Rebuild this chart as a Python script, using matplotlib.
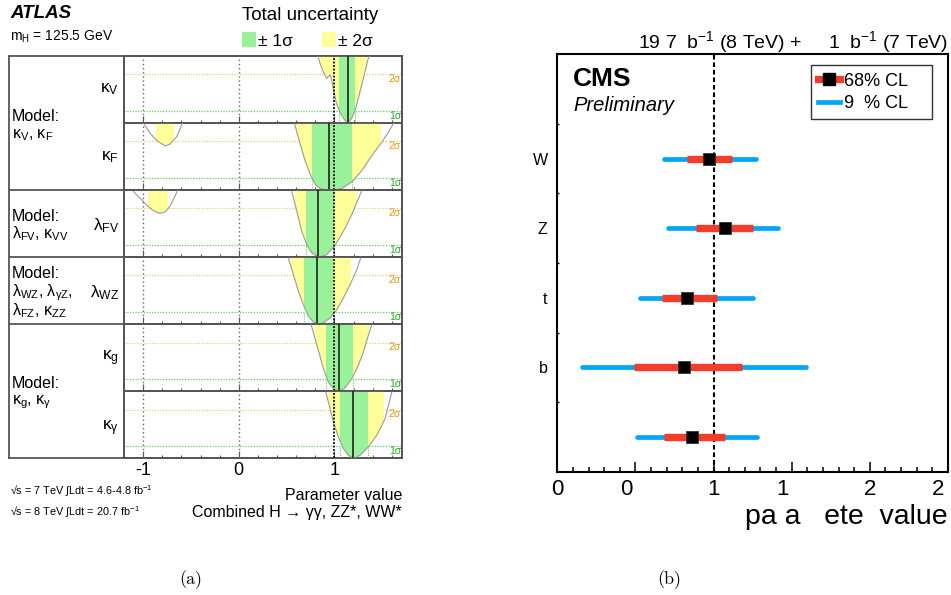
import numpy as np
import matplotlib
matplotlib.use("Agg")
import matplotlib.pyplot as plt
import matplotlib.transforms as mtransforms
from matplotlib.patches import Polygon, Rectangle
from matplotlib.lines import Line2D

W, H = 951, 595
plt.rcParams['font.family'] = ['Liberation Sans', 'DejaVu Sans']
plt.rcParams['mathtext.fontset'] = 'custom'
plt.rcParams['mathtext.rm'] = 'Liberation Sans'
plt.rcParams['mathtext.it'] = 'Liberation Sans:italic'
plt.rcParams['mathtext.bf'] = 'Liberation Sans:bold'
plt.rcParams['axes.unicode_minus'] = False

# ---------------- ATLAS panel data (-2 ln Lambda scans) ----------------
atlas_labels = ["κ$_\\mathrm{V}$", "κ$_\\mathrm{F}$", "λ$_\\mathrm{FV}$",
                "λ$_\\mathrm{WZ}$", "κ$_\\mathrm{g}$", "κ$_\\mathrm{γ}$"]

kV_x = [0.825, 0.850, 0.884, 0.919, 0.953, 0.970, 0.998, 1.022, 1.057, 1.102,
        1.137, 1.178, 1.213, 1.248, 1.283, 1.318, 1.346, 1.363]
kV_y = [5.54, 4.86, 4.18, 3.66, 3.96, 3.55, 2.40, 1.58, 0.90, 0.30,
        0.0, 0.35, 0.98, 1.99, 3.08, 4.18, 5.08, 5.54]
kV_best = 1.137
kV_1s = [(1.045, 1.213)]
kV_2s = [(0.850, 1.345)]

kF_x = [0.578, 0.641, 0.693, 0.745, 0.797, 0.850, 0.920, 0.990, 1.076, 1.180,
        1.285, 1.390, 1.494, 1.560, 1.620]
kF_y = [5.56, 3.78, 2.41, 1.32, 0.50, 0.12, 0.02, 0.0, 0.12, 0.66,
        1.59, 2.82, 3.92, 4.70, 5.50]
kF2_x = [-0.997, -0.927, -0.857, -0.770, -0.718, -0.648, -0.596, -0.585]
kF2_y = [5.48, 4.66, 4.05, 3.62, 3.78, 4.38, 5.34, 5.60]
kF_best = 0.947
kF_1s = [(0.763, 1.180)]
kF_2s = [(0.600, 1.490), (-0.867, -0.678)]

lFV_x = [0.553, 0.606, 0.658, 0.711, 0.763, 0.842, 0.920, 1.006, 1.093, 1.181,
         1.268, 1.303]
lFV_y = [5.41, 3.77, 2.12, 1.03, 0.34, 0.0, 0.21, 0.98, 2.12, 3.49, 5.13, 5.68]
lFV2_x = [-1.100, -1.031, -0.945, -0.892, -0.830, -0.770, -0.718, -0.666, -0.642]
lFV2_y = [5.37, 4.83, 4.14, 3.81, 3.60, 3.71, 4.20, 5.02, 5.46]
lFV_best = 0.832
lFV_1s = [(0.700, 1.000)]
lFV_2s = [(0.588, 1.233), (-0.945, -0.736)]

lWZ_x = [0.518, 0.571, 0.623, 0.675, 0.727, 0.780, 0.822, 0.884, 0.954, 1.024,
         1.093, 1.163, 1.233, 1.275]
lWZ_y = [5.43, 4.06, 2.70, 1.60, 0.65, 0.18, 0.0, 0.10, 0.51, 1.19,
         2.15, 3.24, 4.47, 5.45]
lWZ_best = 0.822
lWZ_1s = [(0.684, 0.985)]
lWZ_2s = [(0.548, 1.175)]

kg_x = [0.752, 0.797, 0.842, 0.884, 0.936, 0.988, 1.041, 1.110, 1.181, 1.250,
        1.302, 1.354, 1.395]
kg_y = [5.55, 4.32, 3.08, 1.86, 0.76, 0.21, 0.0, 0.27, 1.03, 2.13,
        3.22, 4.59, 5.55]
kg_best = 1.050
kg_1s = [(0.915, 1.195)]
kg_2s = [(0.797, 1.357)]

kgam_x = [0.910, 0.954, 0.988, 1.041, 1.093, 1.145, 1.198, 1.268, 1.354, 1.442,
          1.529, 1.565, 1.600]
kgam_y = [5.44, 4.07, 2.98, 1.75, 0.79, 0.25, 0.0, 0.25, 0.93, 1.89,
          3.25, 4.35, 5.44]
kgam_best = 1.198
kgam_1s = [(1.058, 1.354)]
kgam_2s = [(0.937, 1.520)]

atlas_xticks = [-1, 0, 1]
atlas_xticklabels = ["-1", "0", "1"]

# ---------------- CMS panel data ----------------
cms_cats = ["W", "Z", "t", "b", ""]
cms_best = [0.97, 1.07, 0.83, 0.81, 0.86]
cms_68_lo = [0.83, 0.89, 0.67, 0.49, 0.68]
cms_68_hi = [1.12, 1.25, 1.02, 1.18, 1.07]
cms_95_lo = [0.68, 0.71, 0.53, 0.16, 0.51]
cms_95_hi = [1.27, 1.41, 1.25, 1.59, 1.28]
cms_xticks = [0, 0.5, 1, 1.5, 2, 2.5]
cms_xticklabels = ["0", "0", "1", "1", "2", "2"]

GREEN = '#99f299'
YELLOW = '#ffff99'
FRAME = '#555555'

fig = plt.figure(figsize=(W / 100, H / 100), dpi=100)


def px_axes(x0, y0, x1, y1, **kw):
    return fig.add_axes([x0 / W, 1 - y1 / H, (x1 - x0) / W, (y1 - y0) / H], **kw)


def ftext(px, py, s, **kw):
    return fig.text(px / W, 1 - py / H, s, **kw)


# ---------------- ATLAS ----------------
row_edges = [56, 123.0, 190.1, 257.2, 324.2, 391.3, 458.3]
PX0, PX1 = 124, 402
XL = (-1.2, 1.706)
YTOP = 5.5

bg = px_axes(9, 56, PX1, 458.3)
bg.set_xlim(9, PX1)
bg.set_ylim(458.3, 56)
bg.set_xticks([])
bg.set_yticks([])
for s in bg.spines.values():
    s.set_color(FRAME)
    s.set_linewidth(1.3)
for yy in [190.1, 257.2, 324.2]:
    bg.plot([9, PX1], [yy, yy], color=FRAME, lw=1.3)
bg.plot([PX0, PX0], [56, 458.3], color=FRAME, lw=1.3)

rows = [
    ([(kV_x, kV_y)], kV_best, kV_1s, kV_2s),
    ([(kF_x, kF_y), (kF2_x, kF2_y)], kF_best, kF_1s, kF_2s),
    ([(lFV_x, lFV_y), (lFV2_x, lFV2_y)], lFV_best, lFV_1s, lFV_2s),
    ([(lWZ_x, lWZ_y)], lWZ_best, lWZ_1s, lWZ_2s),
    ([(kg_x, kg_y)], kg_best, kg_1s, kg_2s),
    ([(kgam_x, kgam_y)], kgam_best, kgam_1s, kgam_2s),
]

for i, (curves, best, s1, s2) in enumerate(rows):
    ax = px_axes(PX0, row_edges[i], PX1, row_edges[i + 1])
    ax.set_xlim(*XL)
    ax.set_ylim(0, YTOP)
    ax.set_facecolor('none')
    for s in ax.spines.values():
        s.set_color(FRAME)
        s.set_linewidth(1.3)
    ax.axhline(4, color='#d6d67a', ls=(0, (1, 1.2)), lw=0.9, zorder=1)
    ax.axhline(1, color='#66cc66', ls=(0, (1, 1.2)), lw=0.9, zorder=1)
    for cx, cy in curves:
        verts = [(cx[0], 20)] + list(zip(cx, cy)) + [(cx[-1], 20)]
        poly = Polygon(verts, closed=True, transform=ax.transData)
        for (lo, hi), col in [(iv, YELLOW) for iv in s2] + [(iv, GREEN) for iv in s1]:
            r = Rectangle((lo, -1), hi - lo, 30, facecolor=col, edgecolor='none', zorder=2)
            r.set_clip_path(poly)
            ax.add_artist(r)
            r.set_clip_box(ax.bbox)
        ax.plot(cx, cy, color='#9a9a9a', lw=0.8, zorder=3)
    for lo, hi in s1:
        for xx in (lo, hi):
            ax.plot([xx, xx], [0, 1], color='#66cc66', ls=(0, (1, 1.2)), lw=0.8, zorder=3)
    ax.axvline(-1, color='#666666', ls=(0, (1, 2)), lw=1.0, zorder=4)
    ax.axvline(0, color='#666666', ls=(0, (1, 2)), lw=1.0, zorder=4)
    ax.axvline(1, color='#222222', ls=(0, (1, 0.8)), lw=1.4, zorder=5)
    ax.axvline(best, color='#222222', lw=1.2, zorder=5)
    ax.text(0.997, 3.6, "2σ", transform=ax.get_yaxis_transform(), ha='right',
            va='center', fontsize=7.5, color='#dd9a10', zorder=6)
    ax.text(0.997, 0.6, "1σ", transform=ax.get_yaxis_transform(), ha='right',
            va='center', fontsize=7.5, color='#22aa22', zorder=6)
    ax.set_xticks(atlas_xticks)
    ax.set_xticks(np.arange(-1.2, 1.71, 0.2), minor=True)
    ax.set_yticks([])
    ax.tick_params(axis='x', which='major', direction='in', length=5, width=0.8,
                   color=FRAME, top=False, labelsize=13, pad=3)
    ax.tick_params(axis='x', which='minor', direction='in', length=2.5, width=0.8,
                   color=FRAME, top=False)
    if i == len(rows) - 1:
        ax.set_xticklabels(atlas_xticklabels)
    else:
        ax.set_xticklabels([])

# row labels (right of label column)
lab_y = [89, 157, 226, 293, 358, 428]
for lab, yy in zip(atlas_labels, lab_y):
    ftext(119, yy, lab, ha='right', va='center', fontsize=12.5)

# model labels
ftext(12, 121.5, "Model:", ha='left', va='baseline', fontsize=11.5)
ftext(12, 138, "κ$_\\mathrm{V}$, κ$_\\mathrm{F}$", ha='left', va='baseline', fontsize=11.5)
ftext(12, 221, "Model:", ha='left', va='baseline', fontsize=11.5)
ftext(12, 238, "λ$_\\mathrm{FV}$, κ$_\\mathrm{VV}$", ha='left', va='baseline', fontsize=11.5)
ftext(12, 278, "Model:", ha='left', va='baseline', fontsize=11.5)
ftext(12, 296, "λ$_\\mathrm{WZ}$, λ$_\\mathrm{γZ}$,", ha='left', va='baseline', fontsize=11.5)
ftext(12, 315.5, "λ$_\\mathrm{FZ}$, κ$_\\mathrm{ZZ}$", ha='left', va='baseline', fontsize=11.5)
ftext(12, 388, "Model:", ha='left', va='baseline', fontsize=11.5)
ftext(12, 404, "κ$_\\mathrm{g}$, κ$_\\mathrm{γ}$", ha='left', va='baseline', fontsize=11.5)

# header
ftext(10, 18.5, "ATLAS", ha='left', va='baseline', fontsize=13.5, weight='bold', style='italic')
ftext(10, 41, "m$_\\mathrm{H}$ = 125.5 GeV", ha='left', va='baseline', fontsize=10)
ftext(242, 20.5, "Total uncertainty", ha='left', va='baseline', fontsize=13.5)
fig.add_artist(Rectangle((241.7 / W, 1 - 46.7 / H), 14.5 / W, 15 / H,
                         facecolor=GREEN, edgecolor='none', transform=fig.transFigure))
fig.add_artist(Rectangle((321.7 / W, 1 - 46.7 / H), 14.5 / W, 15 / H,
                         facecolor=YELLOW, edgecolor='none', transform=fig.transFigure))
ftext(258, 46, "± 1σ", ha='left', va='baseline', fontsize=12.5)
ftext(338, 46, "± 2σ", ha='left', va='baseline', fontsize=12.5)

# footer
ftext(10, 495, "√s = 7 TeV ∫Ldt = 4.6-4.8 fb$^{-1}$", ha='left', va='baseline', fontsize=7.8)
ftext(10, 516, "√s = 8 TeV ∫Ldt = 20.7 fb$^{-1}$", ha='left', va='baseline', fontsize=7.8)
ftext(402, 500, "Parameter value", ha='right', va='baseline', fontsize=11.5)
ftext(402, 517, "Combined H → γγ, ZZ*, WW*", ha='right', va='baseline', fontsize=11.5)

# ---------------- CMS ----------------
BLUE = '#00a6f6'
RED = '#f43c2a'
cax = px_axes(557.3, 54.3, 948, 471.7)
cax.set_xlim(0, 2.5)
cax.set_ylim(0.5, 6.5)
ypos = np.arange(len(cms_cats), 0, -1)
cax.axvline(1, color='k', ls=(0, (2.2, 1.4)), lw=1.5, zorder=1)
for yv, b, l68, h68, l95, h95 in zip(ypos, cms_best, cms_68_lo, cms_68_hi, cms_95_lo, cms_95_hi):
    cax.plot([l95, h95], [yv, yv], color=BLUE, lw=3.4, solid_capstyle='round', zorder=2)
    cax.plot([l68, h68], [yv, yv], color=RED, lw=5.3, solid_capstyle='butt', zorder=3)
    cax.plot([b], [yv], marker='s', ms=8.8, color='k', mec='#333333', mew=0.6, zorder=4)
for s in cax.spines.values():
    s.set_linewidth(1.5)
    s.set_color('k')
cax.set_xticks(cms_xticks)
cax.set_xticklabels(cms_xticklabels)
cax.set_xticks(np.arange(0, 2.51, 0.1), minor=True)
cax.tick_params(axis='x', which='major', direction='in', length=7.5, width=1.1,
                top=False, labelsize=16, pad=5)
cax.tick_params(axis='x', which='minor', direction='in', length=3.8, width=1.1, top=False)
# half-integer labels are drawn with their missing glyphs, so the digit sits left of the tick
shift = mtransforms.ScaledTranslation(-9.5 / 100, 0, fig.dpi_scale_trans)
for lab in cax.get_xticklabels()[1::2]:
    lab.set_transform(lab.get_transform() + shift)
cax.set_yticks(ypos)
cax.set_yticklabels(cms_cats)
cax.set_yticks(np.arange(1.5, 6.0, 1.0), minor=True)
cax.tick_params(axis='y', which='major', length=0, pad=7, labelsize=11.5)
cax.tick_params(axis='y', which='minor', direction='in', length=1.5, width=1, right=False)

h1 = Line2D([], [], color=RED, lw=5.3, marker='s', ms=8.8, mfc='k', mec='k')
h2 = Line2D([], [], color=BLUE, lw=3.4)
leg = cax.legend([h1, h2], ["68% CL", "9  % CL"], loc='upper left',
                 bbox_to_anchor=(0.6486, 0.8474, 0.3104, 0.1262), mode='expand',
                 fontsize=13, frameon=True, fancybox=False, edgecolor='k',
                 handlelength=1.25, handletextpad=0.2, borderpad=0.4,
                 labelspacing=0.3, borderaxespad=0)
leg.get_frame().set_linewidth(1.0)

ftext(572.5, 86, "CMS", ha='left', va='baseline', fontsize=19, weight='bold')
ftext(573.5, 111, "Preliminary", ha='left', va='baseline', fontsize=14.5, style='italic')
ftext(948, 48.3, "19 7  b$^{-1}$ (8 TeV) +     1  b$^{-1}$ (7 TeV)", ha='right',
      va='baseline', fontsize=14)
ftext(948, 524, "pa a   ete  value", ha='right', va='baseline', fontsize=20.5)

# captions
ftext(191, 584, "(a)", ha='center', va='baseline', fontsize=13, family='cmr10')
ftext(669, 584, "(b)", ha='center', va='baseline', fontsize=13, family='cmr10')

fig.savefig("out.png", dpi=100)
